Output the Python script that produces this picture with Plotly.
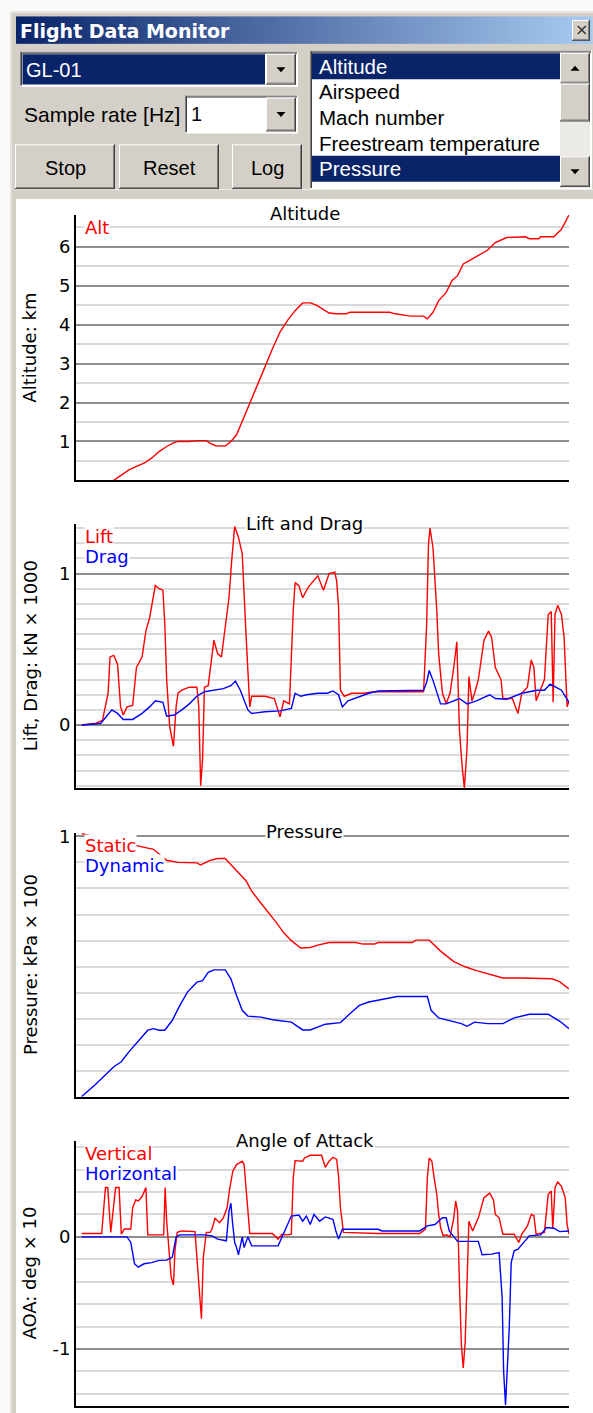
import plotly.graph_objects as go

W, H = 593, 1413


def px(x):
    return x / W


def py(y):
    return 1 - y / H


# ---------------- data (t = sample index) ----------------
t_alt = [100, 120, 140, 160, 180, 200, 220, 240, 255, 270, 300, 320, 345, 355, 370, 395,
         410, 425, 440, 460, 480, 500, 520, 540, 560, 580, 600, 620, 635, 650, 670, 690,
         715, 725, 830, 845, 885, 920, 930, 945, 960, 980, 995, 1010, 1025, 1040, 1065,
         1090, 1110, 1140, 1190, 1200, 1225, 1230, 1265, 1285, 1305]
alt_km = [0.0, 0.145, 0.27, 0.36, 0.44, 0.57, 0.74, 0.87, 0.95, 1.0, 1.0, 1.02, 1.02, 0.95,
          0.89, 0.88, 1.0, 1.17, 1.51, 1.98, 2.45, 2.91, 3.38, 3.81, 4.11, 4.36, 4.56, 4.56,
          4.51, 4.41, 4.30, 4.28, 4.28, 4.32, 4.32, 4.28, 4.22, 4.22, 4.15, 4.32, 4.62, 4.83,
          5.13, 5.26, 5.56, 5.64, 5.77, 5.92, 6.11, 6.24, 6.26, 6.21, 6.21, 6.26, 6.26, 6.45,
          6.82]

t_lift = [15, 50, 70, 85, 90, 100, 110, 118, 125, 135, 150, 160, 175, 185, 195, 205, 210,
          220, 230, 235, 240, 248, 258, 265, 270, 280, 300, 320, 325, 330, 335, 340, 350,
          365, 375, 385, 395, 405, 412, 420, 430, 440, 450, 455, 460, 465, 500, 525, 540,
          550, 565, 575, 580, 590, 600, 615, 640, 655, 670, 685, 690, 695, 700, 710, 730,
          760, 790, 850, 920, 928, 933, 937, 945, 955, 960, 970, 980, 990, 1000, 1008,
          1015, 1022, 1028, 1035, 1040, 1048, 1055, 1065, 1080, 1092, 1100, 1110, 1125,
          1130, 1155, 1170, 1180, 1195, 1205, 1212, 1218, 1240, 1250, 1258, 1263, 1268,
          1275, 1285, 1292, 1300, 1305]
lift = [0.0, 0.01, 0.03, 0.21, 0.45, 0.46, 0.40, 0.12, 0.066, 0.12, 0.13, 0.38, 0.45, 0.62,
        0.71, 0.84, 0.92, 0.90, 0.89, 0.67, 0.30, -0.01, -0.14, 0.12, 0.21, 0.23, 0.25, 0.25,
        0.12, -0.40, -0.23, 0.25, 0.26, 0.56, 0.47, 0.45, 0.65, 0.84, 1.08, 1.31, 1.24, 1.13,
        0.60, 0.38, 0.12, 0.19, 0.19, 0.175, 0.055, 0.16, 0.14, 0.755, 0.94, 0.92, 0.84,
        0.91, 0.985, 0.89, 1.0, 1.01, 0.95, 0.78, 0.23, 0.19, 0.21, 0.21, 0.22, 0.22, 0.22,
        0.65, 1.19, 1.30, 1.17, 0.755, 0.47, 0.21, 0.14, 0.21, 0.38, 0.55, -0.03, -0.27,
        -0.415, -0.16, 0.32, 0.16, 0.21, 0.30, 0.56, 0.62, 0.58, 0.38, 0.30, 0.175, 0.175,
        0.077, 0.21, 0.25, 0.43, 0.38, 0.16, 0.30, 0.73, 0.75, 0.15, 0.73, 0.79, 0.73, 0.58,
        0.12, 0.16]

t_drag = [15, 65, 80, 95, 110, 125, 150, 175, 195, 210, 230, 240, 260, 280, 300, 320, 340,
          360, 390, 410, 422, 435, 455, 465, 500, 540, 570, 580, 595, 610, 640, 665, 680,
          695, 705, 720, 750, 775, 800, 920, 928, 935, 945, 955, 965, 980, 1000, 1015, 1035,
          1060, 1095, 1110, 1140, 1160, 1180, 1200, 1220, 1240, 1255, 1270, 1285, 1305]
drag = [0.0, 0.01, 0.055, 0.10, 0.077, 0.037, 0.037, 0.077, 0.12, 0.16, 0.15, 0.059, 0.066,
        0.10, 0.14, 0.19, 0.22, 0.23, 0.24, 0.26, 0.29, 0.23, 0.10, 0.077, 0.088, 0.094,
        0.11, 0.21, 0.19, 0.20, 0.21, 0.21, 0.225, 0.20, 0.12, 0.16, 0.19, 0.21, 0.225, 0.23,
        0.28, 0.36, 0.295, 0.21, 0.14, 0.14, 0.16, 0.175, 0.14, 0.16, 0.20, 0.175, 0.17,
        0.19, 0.21, 0.22, 0.23, 0.23, 0.27, 0.25, 0.23, 0.15]

t_static = [15, 170, 205, 240, 270, 320, 330, 355, 375, 395, 410, 430, 450, 465, 485, 510,
            530, 550, 570, 595, 620, 640, 670, 740, 760, 790, 800, 890, 900, 935, 965, 1000,
            1030, 1060, 1100, 1130, 1180, 1260, 1280, 1305]
static = [1.01, 0.96, 0.95, 0.908, 0.90, 0.898, 0.89, 0.908, 0.915, 0.915, 0.89, 0.86, 0.83,
          0.79, 0.752, 0.708, 0.67, 0.63, 0.60, 0.572, 0.574, 0.583, 0.593, 0.593, 0.587,
          0.587, 0.593, 0.593, 0.602, 0.602, 0.56, 0.52, 0.50, 0.485, 0.469, 0.457, 0.457,
          0.454, 0.443, 0.415]

t_dynamic = [15, 50, 100, 120, 140, 165, 190, 205, 220, 235, 255, 275, 295, 320, 335, 350,
             365, 395, 410, 425, 440, 455, 490, 520, 570, 600, 620, 660, 700, 725, 750, 775,
             810, 850, 930, 940, 960, 995, 1020, 1035, 1055, 1090, 1130, 1160, 1200, 1250,
             1280, 1305]
dynamic = [0.003, 0.047, 0.117, 0.136, 0.174, 0.215, 0.257, 0.263, 0.257, 0.257, 0.295,
           0.352, 0.403, 0.441, 0.447, 0.479, 0.488, 0.488, 0.454, 0.39, 0.333, 0.311, 0.307,
           0.297, 0.288, 0.258, 0.258, 0.28, 0.286, 0.32, 0.352, 0.365, 0.375, 0.386, 0.386,
           0.333, 0.304, 0.291, 0.282, 0.272, 0.288, 0.282, 0.282, 0.304, 0.318, 0.318, 0.292,
           0.263]

t_vert = [15, 68, 78, 84, 92, 105, 114, 120, 128, 145, 150, 158, 165, 175, 185, 190, 232,
          236, 240, 248, 252, 258, 262, 268, 280, 315, 320, 327, 332, 337, 345, 355, 360,
          368, 380, 390, 400, 406, 415, 425, 440, 445, 450, 455, 460, 520, 535, 545, 560,
          570, 575, 580, 600, 605, 620, 650, 660, 670, 680, 690, 695, 700, 708, 800, 910,
          925, 930, 935, 942, 948, 955, 960, 965, 972, 980, 990, 1000, 1005, 1010, 1015,
          1020, 1025, 1030, 1035, 1040, 1050, 1065, 1080, 1095, 1105, 1110, 1120, 1130,
          1160, 1172, 1180, 1195, 1205, 1212, 1218, 1240, 1250, 1258, 1262, 1268, 1275, 1285,
          1295, 1300, 1305]
vertical = [0.03, 0.03, 0.44, 0.44, 0.04, 0.44, 0.44, 0.024, 0.07, 0.07, 0.26, 0.33, 0.32,
            0.36, 0.44, 0.018, 0.018, 0.44, 0.14, -0.18, -0.36, -0.43, -0.12, 0.04, 0.053,
            0.047, -0.18, -0.57, -0.73, -0.18, 0.04, 0.04, 0.07, 0.166, 0.127, 0.17, 0.26,
            0.41, 0.586, 0.645, 0.675, 0.645, 0.45, 0.23, 0.03, 0.03, -0.02, 0.024, 0.018,
            0.024, 0.527, 0.68, 0.675, 0.704, 0.728, 0.728, 0.62, 0.675, 0.71, 0.69, 0.54,
            0.26, 0.04, 0.03, 0.03, 0.07, 0.527, 0.704, 0.675, 0.527, 0.38, 0.2, 0.083, 0.01,
            0.018, 0.0, 0.17, 0.32, 0.23, -0.42, -0.95, -1.17, -0.95, -0.42, 0.14, 0.053,
            0.17, 0.35, 0.39, 0.33, 0.2, 0.17, 0.024, 0.024, -0.05, 0.024, 0.098, 0.2, 0.19,
            0.024, 0.04, 0.38, 0.41, 0.07, 0.44, 0.49, 0.45, 0.35, 0.11, 0.024]

t_horiz = [15, 135, 145, 155, 165, 180, 200, 220, 240, 255, 265, 275, 340, 360, 375, 390,
           398, 405, 410, 414, 420, 425, 430, 440, 445, 455, 465, 535, 545, 555, 570, 590,
           600, 610, 620, 630, 645, 660, 680, 688, 695, 705, 800, 810, 910, 930, 950, 970,
           980, 988, 1010, 1065, 1075, 1100, 1120, 1128, 1132, 1137, 1142, 1147, 1152, 1160,
           1170, 1185, 1200, 1230, 1245, 1265, 1280, 1305]
horizontal = [0.0, 0.0, -0.05, -0.24, -0.27, -0.24, -0.23, -0.21, -0.207, -0.18, 0.0, 0.018,
              0.018, 0.009, -0.02, -0.03, -0.035, 0.23, 0.3, 0.14, -0.05, -0.095, -0.16, 0.0,
              -0.095, 0.0, -0.08, -0.08, 0.0, 0.083, 0.186, 0.195, 0.14, 0.186, 0.11, 0.2,
              0.14, 0.178, 0.157, 0.053, -0.02, 0.068, 0.068, 0.053, 0.053, 0.098, 0.11, 0.17,
              0.17, 0.053, -0.04, -0.04, -0.16, -0.154, -0.14, -0.54, -1.2, -1.5, -1.19, -0.8,
              -0.23, -0.124, -0.11, -0.05, 0.009, 0.018, 0.083, 0.077, 0.047, 0.053]

list_items = ["Altitude", "Airspeed", "Mach number", "Freestream temperature", "Pressure"]
selected_items = ["Altitude", "Pressure"]

# ---------------- styling ----------------
RED = "#FF0000"
BLUE = "#0000FF"
FACE = "#D4D0C8"
NAVY = "#0A246A"
DARK = "#808080"
MAJOR_GRID = "#8E8E8E"
MINOR_GRID = "#DADADA"
CHART_FONT = "DejaVu Sans"
UI_FONT = "Liberation Sans"

X_RANGE = [0, 1305]
X_DOMAIN = [px(76), px(569)]

panels = [
    dict(top=209, bottom=475.7, yr=[0, 6.82], tv=[1, 2, 3, 4, 5, 6],
         tt=["1", "2", "3", "4", "5", "6"], minor=0.5,
         title="Altitude", ytitle="Altitude: km"),
    dict(top=520, bottom=785, yr=[-0.416, 1.324], tv=[0, 1], tt=["0", "1"], minor=0.1,
         title="Lift and Drag", ytitle="Lift, Drag: kN × 1000"),
    dict(top=830, bottom=1095.7, yr=[0, 1.013], tv=[1], tt=["1"], minor=0.1,
         title="Pressure", ytitle="Pressure: kPa × 100"),
    dict(top=1140, bottom=1405.7, yr=[-1.506, 0.852], tv=[0, -1], tt=["0", "-1"], minor=0.2,
         title="Angle of Attack", ytitle="AOA: deg × 10"),
]

series = [
    [("Alt", t_alt, alt_km, RED)],
    [("Lift", t_lift, lift, RED), ("Drag", t_drag, drag, BLUE)],
    [("Static", t_static, static, RED), ("Dynamic", t_dynamic, dynamic, BLUE)],
    [("Vertical", t_vert, vertical, RED), ("Horizontal", t_horiz, horizontal, BLUE)],
]

fig = go.Figure()
annotations = []
shapes = []
layout_axes = {}

for i, (p, ser) in enumerate(zip(panels, series), start=1):
    sx = "" if i == 1 else str(i)
    layout_axes["xaxis" + sx] = dict(
        domain=X_DOMAIN, range=X_RANGE, anchor="y" + sx,
        showline=True, linecolor="black", linewidth=2, mirror=False,
        showgrid=False, zeroline=False, showticklabels=False, ticks="", fixedrange=True,
    )
    layout_axes["yaxis" + sx] = dict(
        domain=[py(p["bottom"]), py(p["top"])], range=p["yr"], anchor="x" + sx,
        showline=True, linecolor="black", linewidth=2,
        tickmode="array", tickvals=p["tv"], ticktext=p["tt"],
        ticks="", showgrid=True, gridcolor=MAJOR_GRID, gridwidth=2,
        zeroline=False, fixedrange=True,
        tickfont=dict(family=CHART_FONT, size=18, color="black"),
        minor=dict(tickmode="linear", tick0=0, dtick=p["minor"], showgrid=True,
                   gridcolor=MINOR_GRID, gridwidth=1.6, ticks=""),
    )
    for name, tx, vy, col in ser:
        fig.add_trace(go.Scatter(
            x=tx, y=vy, mode="lines", name=name,
            line=dict(color=col, width=1.4),
            xaxis="x" + sx, yaxis="y" + sx, showlegend=False, hoverinfo="skip",
        ))
    # panel title
    annotations.append(dict(
        text=p["title"], x=px(304.5), y=py(p["top"] - 1), xref="paper", yref="paper",
        showarrow=False, font=dict(family=CHART_FONT, size=18, color="black"),
        bgcolor="white", borderpad=0, xanchor="center", yanchor="middle",
    ))
    # vertical axis caption
    annotations.append(dict(
        text=p["ytitle"], x=px(30), y=py((p["top"] + p["bottom"]) / 2),
        xref="paper", yref="paper", showarrow=False, textangle=-90,
        font=dict(family=CHART_FONT, size=18, color="black"),
        xanchor="center", yanchor="middle",
    ))
    # series labels in the upper-left corner
    for k, (name, _, _, col) in enumerate(ser):
        annotations.append(dict(
            text=name, x=px(84), y=py(p["top"] + 12.5 + 20 * k),
            xref="paper", yref="paper", showarrow=False,
            font=dict(family=CHART_FONT, size=18, color=col),
            bgcolor="white", borderpad=0, xanchor="left", yanchor="middle",
        ))


# ---------------- window chrome ----------------
def rect(x0, y0, x1, y1, fill, line=None, lw=0, layer="below"):
    shapes.append(dict(
        type="rect", xref="paper", yref="paper",
        x0=px(x0), x1=px(x1), y0=py(y1), y1=py(y0),
        fillcolor=fill, line=dict(width=lw, color=line or fill), layer=layer,
    ))


def hline(x0, x1, y, color, w=1):
    shapes.append(dict(type="line", xref="paper", yref="paper", x0=px(x0), x1=px(x1),
                       y0=py(y), y1=py(y), line=dict(color=color, width=w), layer="below"))


def vline(x, y0, y1, color, w=1):
    shapes.append(dict(type="line", xref="paper", yref="paper", x0=px(x), x1=px(x),
                       y0=py(y0), y1=py(y1), line=dict(color=color, width=w), layer="below"))


def raised(x0, y0, x1, y1):
    rect(x0, y0, x1, y1, FACE)
    hline(x0, x1, y0 + 0.5, "white")
    vline(x0 + 0.5, y0, y1, "white")
    hline(x0, x1, y1 - 0.5, "#404040")
    vline(x1 - 0.5, y0, y1, "#404040")
    hline(x0 + 1, x1 - 1, y1 - 1.5, DARK)
    vline(x1 - 1.5, y0 + 1, y1 - 1, DARK)


def sunken(x0, y0, x1, y1, fill="white"):
    rect(x0, y0, x1, y1, fill)
    hline(x0, x1, y0 + 0.5, DARK)
    vline(x0 + 0.5, y0, y1, DARK)
    hline(x0 + 1, x1 - 1, y0 + 1.5, "#404040")
    vline(x0 + 1.5, y0 + 1, y1 - 1, "#404040")
    hline(x0, x1, y1 - 0.5, "white")
    vline(x1 - 0.5, y0, y1, "white")


def arrow(cx, cy, up=False):
    d = -1 if up else 1
    path = "M {} {} L {} {} L {} {} Z".format(
        px(cx - 4.5), py(cy - 2.5 * d), px(cx + 4.5), py(cy - 2.5 * d),
        px(cx), py(cy + 2.5 * d))
    shapes.append(dict(type="path", xref="paper", yref="paper", path=path,
                       fillcolor="black", line=dict(width=0), layer="below"))


def label(text, x, y, color="black", size=20, anchor="left", family=UI_FONT, bold=False):
    annotations.append(dict(
        text="<b>{}</b>".format(text) if bold else text,
        x=px(x), y=py(y), xref="paper", yref="paper", showarrow=False,
        font=dict(family=family, size=size, color=color),
        xanchor=anchor, yanchor="middle",
    ))


# window frame and client area
rect(10, 4, W, H, FACE)
vline(11, 4, H, "#ECEAE4", 1.5)
hline(10, W, 5, "#ECEAE4", 1.5)
rect(16, 193, W, H, "white")
hline(16, W, 183.5, "#EEEDE8")

# title bar with horizontal gradient
c0, c1 = (10, 36, 106), (166, 202, 240)
n_strips = 96
x_start, x_end = 16, 592
for s in range(n_strips):
    f = s / (n_strips - 1)
    col = "rgb({},{},{})".format(*[round(a + (b - a) * f) for a, b in zip(c0, c1)])
    xa = x_start + (x_end - x_start) * s / n_strips
    xb = x_start + (x_end - x_start) * (s + 1) / n_strips + 0.6
    rect(xa, 9.5, xb, 37, col)
label("Flight Data Monitor", 18, 24, color="white", size=19, family="DejaVu Sans", bold=True)
raised(572, 13, 590, 34)
label("×", 581, 23, color="#303030", size=16, anchor="center", family="DejaVu Sans")

# vehicle selector
sunken(20, 45, 298, 80)
rect(22.5, 47.5, 265, 78, NAVY)
label("GL-01", 24, 63, color="white", size=20)
raised(266, 47, 296, 78)
arrow(281, 63)

# sample rate selector
label("Sample rate [Hz]", 22, 108, size=21)
sunken(185, 89, 298, 127)
label("1", 189, 108, size=20)
raised(266, 91, 296, 125)
arrow(281, 108)

# buttons
for text, x0, x1 in [("Stop", 15, 115), ("Reset", 119, 219), ("Log", 232, 302)]:
    raised(x0, 138, x1, 183)
    label(text, (x0 + x1) / 2, 162, size=20, anchor="center")

# channel list
sunken(310, 44, 592, 183)
row_y = [59.5, 85.3, 111, 136.8, 162.6]
for item, yc in zip(list_items, row_y):
    sel = item in selected_items
    if sel:
        rect(312, max(yc - 13, 46.5), 560, min(yc + 13, 181), NAVY)
    label(item, 317, yc, color="white" if sel else "black", size=20.5)

# scrollbar
rect(560, 46, 590, 181, "#ECEAE6")
raised(560, 46, 590, 77)
arrow(575, 61.5, up=True)
raised(560, 77, 590, 115)
raised(560, 150, 590, 181)
arrow(575, 165.5)

fig.update_layout(
    width=W, height=H,
    margin=dict(l=0, r=0, t=0, b=0),
    paper_bgcolor="#FAFAF8",
    plot_bgcolor="rgba(0,0,0,0)",
    showlegend=False,
    annotations=annotations,
    shapes=shapes,
    **layout_axes,
)

fig.write_html("out.html", config={"displayModeBar": False})
